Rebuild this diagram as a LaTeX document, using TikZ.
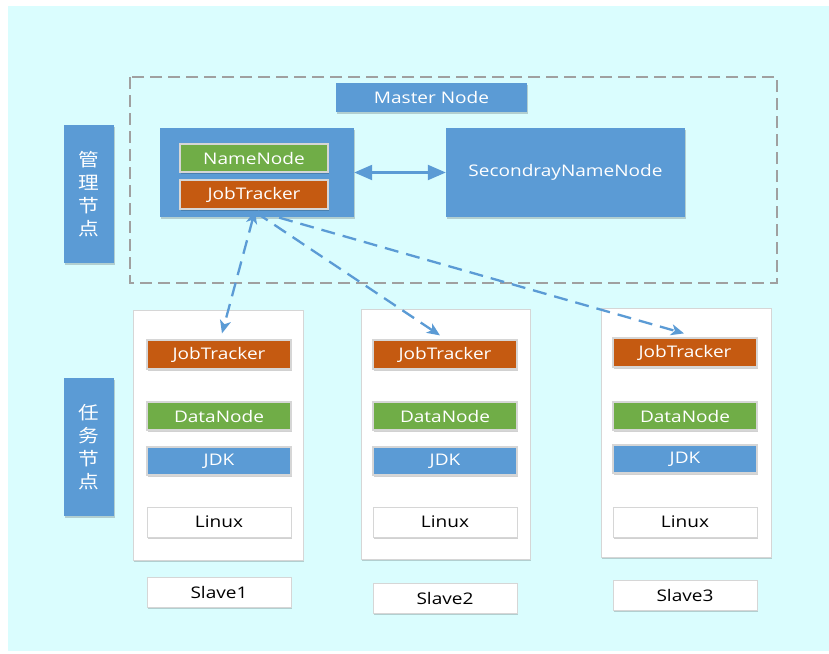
\documentclass[tikz,border=0pt]{standalone}
\usepackage{fontspec}
\setmainfont{Open Sans}[FakeStretch=1.19]
\newfontfamily\cjk{Noto Sans CJK SC}[FakeStretch=1.15]
\usetikzlibrary{arrows.meta,shadows,calc}

\definecolor{bgcyan}{HTML}{DAFDFE}
\definecolor{hblue}{HTML}{5B9BD5}
\definecolor{hgreen}{HTML}{70AD47}
\definecolor{horange}{HTML}{C55A11}
\definecolor{hgrey}{HTML}{A0A0A0}
\definecolor{hedge}{HTML}{D6D6D6}

\tikzset{
  linktip/.tip={Stealth[length=13pt, width=11pt, inset=3.5pt]},
  bigtip/.tip={Triangle[length=18pt, width=15pt]},
}

\begin{document}
\begin{tikzpicture}[x=1pt,y=-1pt,
  box/.style={rectangle, inner sep=0pt, text=white,
    font=\fontsize{16}{19}\selectfont,
    drop shadow={shadow xshift=1.2pt, shadow yshift=-1.6pt, opacity=0.18, fill=black}},
  bluebox/.style={box, fill=hblue},
  greenbox/.style={box, fill=hgreen, draw=hedge, line width=1.2pt},
  orangebox/.style={box, fill=horange, draw=hedge, line width=1.2pt},
  jdkbox/.style={box, fill=hblue, draw=hedge, line width=1.2pt},
  whitebox/.style={box, fill=white, draw=hedge, line width=1pt, text=black},
  layer/.style={minimum width=144, minimum height=28},
  column/.style={whitebox, minimum width=170, minimum height=250},
  sidelabel/.style={bluebox, minimum width=50, minimum height=138,
    font=\cjk\fontsize{18}{23}\selectfont, align=center},
  dashlink/.style={draw=hblue, line width=2.3pt, dash pattern=on 14pt off 8pt, -linktip},
]
% canvas
\useasboundingbox (0,0) rectangle (829,653);
\fill[bgcyan] (8,6) rectangle (829,651);

% management area
\draw[hgrey, line width=1.5pt, dash pattern=on 12pt off 6pt] (130,77) rectangle (777,283);
\node[bluebox, minimum width=191, minimum height=29] (master) at (431.5,97.5) {Master Node};
\node[bluebox, minimum width=194, minimum height=89] (mbox) at (257,172.5) {};
\node[greenbox, minimum width=148, minimum height=28] (nn) at (254,158) {NameNode};
\node[orangebox, minimum width=148, minimum height=29] (mjt) at (254,194.5) {JobTracker};
\node[bluebox, minimum width=239, minimum height=89] (snn) at (565.5,172.5) {SecondrayNameNode};
\draw[hblue, line width=2.2pt, bigtip-bigtip] (mbox.east) -- (snn.west);

% side labels
\node[sidelabel] (lab1) at (89,194) {管\\理\\节\\点};
\node[sidelabel] (lab2) at (89,447) {任\\务\\节\\点};

% slave columns
\node[column] (c1) at (218,435) {};
\node[column, minimum width=169] (c2) at (445.5,434) {};
\node[column, minimum height=249] (c3) at (686,432.5) {};

\node[orangebox, layer, minimum height=29] (jt1) at (219,354.5) {JobTracker};
\node[greenbox, layer] (dn1) at (219,416) {DataNode};
\node[jdkbox, layer] (jdk1) at (219,461) {JDK};
\node[whitebox, layer, minimum height=30] (os1) at (219,522) {Linux};
\node[whitebox, layer, minimum height=30] (s1) at (219,592) {Slave1};

\node[orangebox, layer, minimum height=29] (jt2) at (445,354.5) {JobTracker};
\node[greenbox, layer] (dn2) at (445,416) {DataNode};
\node[jdkbox, layer] (jdk2) at (445,461) {JDK};
\node[whitebox, layer, minimum height=30] (os2) at (445,522) {Linux};
\node[whitebox, layer, minimum height=30] (s2) at (445,598) {Slave2};

\node[orangebox, layer, minimum height=29] (jt3) at (685,352.5) {JobTracker};
\node[greenbox, layer] (dn3) at (685,416) {DataNode};
\node[jdkbox, layer] (jdk3) at (685,459) {JDK};
\node[whitebox, layer, minimum height=30] (os3) at (685,522) {Linux};
\node[whitebox, layer, minimum height=30] (s3) at (685,595) {Slave3};

% task dispatch links
\draw[dashlink, linktip-linktip]
  ([shift={(1,1)}]mjt.south) -- ([shift={(3,-6)}]jt1.north);
\draw[dashlink] ([shift={(2,3)}]mjt.south) -- ([shift={(-5,-4)}]jt2.north);
\draw[dashlink] ([shift={(4,2)}]mjt.south) -- ([shift={(-1,-4)}]jt3.north);
\end{tikzpicture}
\end{document}
